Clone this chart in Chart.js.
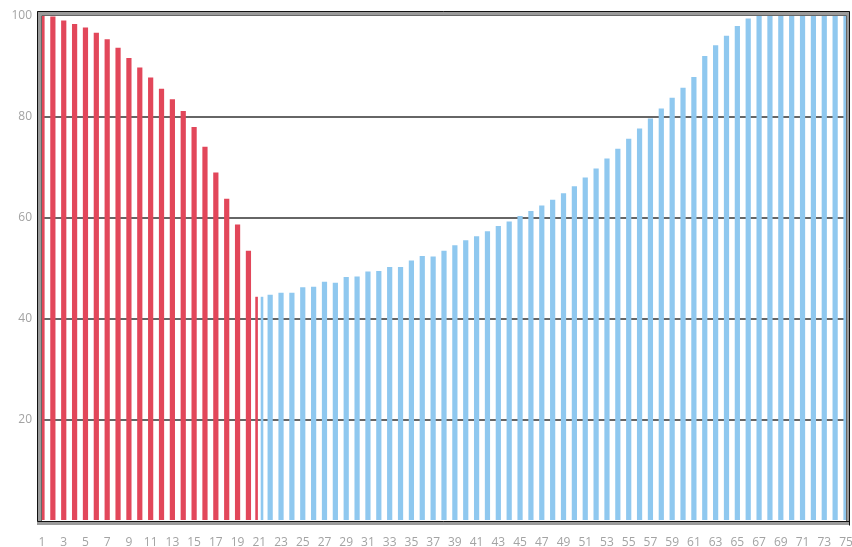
<!DOCTYPE html>
<html>
<head>
<meta charset="utf-8">
<script src="https://cdn.jsdelivr.net/npm/chart.js@4/dist/chart.umd.min.js"></script>
<style>
  html, body { margin: 0; padding: 0; background: #fff; }
  #wrap { width: 852px; height: 547px; position: relative; }
</style>
</head>
<body>
<div id="wrap"><canvas id="chart"></canvas></div>
<script>
// categories 1..75
const categories = [
  1, 2, 3, 4, 5, 6, 7, 8, 9, 10, 11, 12, 13, 14, 15, 16, 17, 18, 19, 20,
  21, 22, 23, 24, 25, 26, 27, 28, 29, 30, 31, 32, 33, 34, 35, 36, 37, 38, 39, 40,
  41, 42, 43, 44, 45, 46, 47, 48, 49, 50, 51, 52, 53, 54, 55, 56, 57, 58, 59, 60,
  61, 62, 63, 64, 65, 66, 67, 68, 69, 70, 71, 72, 73, 74, 75
];

// red series: categories 1..21
const redValues = [
  100, 99.9, 99.1, 98.4, 97.7, 96.7, 95.4, 93.7, 91.7, 89.8,
  87.8, 85.6, 83.5, 81.2, 78, 74.1, 69, 63.8, 58.7, 53.5, 44.4
];

// blue series: categories 21..75
const blueStart = 21;
const blueValues = [
  44.4, 44.8, 45.2, 45.2, 46.3, 46.4, 47.4, 47.2, 48.3, 48.4,
  49.4, 49.5, 50.3, 50.3, 51.6, 52.5, 52.4, 53.5, 54.6, 55.6,
  56.4, 57.4, 58.4, 59.3, 60.4, 61.4, 62.5, 63.6, 64.9, 66.3,
  68, 69.8, 71.8, 73.7, 75.7, 77.7, 79.7, 81.7, 83.8, 85.8,
  87.9, 92.1, 94.2, 96.1, 98, 99.5, 100, 100, 100, 100,
  100, 100, 100, 100, 100
];

const yTicks = [20, 40, 60, 80, 100];

const redData = categories.map((c, i) => i < redValues.length ? redValues[i] : null);
const blueData = categories.map((c, i) => i >= blueStart - 1 ? blueValues[i - (blueStart - 1)] : null);

// bevelled frame round the plot area
const framePlugin = {
  id: 'frame',
  afterDraw(chart) {
    const { ctx, chartArea: a } = chart;
    ctx.save();
    ctx.strokeStyle = '#9b9b9b';
    ctx.lineWidth = 4;
    ctx.strokeRect(a.left - 3, a.top - 3, (a.right + 2) - (a.left - 3), (a.bottom + 2) - (a.top - 3));
    ctx.lineWidth = 1;
    ctx.strokeStyle = '#111';
    // outer top + left + right
    ctx.beginPath();
    ctx.moveTo(a.left - 4.5, a.bottom + 0.5);
    ctx.lineTo(a.left - 4.5, a.top - 4.5);
    ctx.lineTo(a.right + 3.5, a.top - 4.5);
    ctx.lineTo(a.right + 3.5, a.bottom + 4.5);
    ctx.stroke();
    // inner bottom
    ctx.beginPath();
    ctx.moveTo(a.left - 4.5, a.bottom + 0.5);
    ctx.lineTo(a.right + 3.5, a.bottom + 0.5);
    ctx.stroke();
    // inner thin darker lines
    ctx.strokeStyle = '#666';
    ctx.beginPath();
    ctx.moveTo(a.left - 0.5, a.bottom);
    ctx.lineTo(a.left - 0.5, a.top - 0.5);
    ctx.lineTo(a.right + 0.5, a.top - 0.5);
    ctx.lineTo(a.right + 0.5, a.bottom);
    ctx.stroke();
    ctx.restore();
  }
};

const ctx = document.getElementById('chart').getContext('2d');
new Chart(ctx, {
  type: 'bar',
  data: {
    labels: categories,
    datasets: [
      {
        data: redData,
        backgroundColor: 'rgb(226, 71, 90)',
        barPercentage: 0.48,
        categoryPercentage: 1,
        skipNull: true
      },
      {
        data: blueData,
        backgroundColor: 'rgb(143, 200, 239)',
        barPercentage: 0.48,
        categoryPercentage: 1,
        skipNull: true
      }
    ]
  },
  options: {
    responsive: true,
    maintainAspectRatio: false,
    animation: false,
    layout: { padding: { left: 0, top: 16, right: 6, bottom: 0 } },
    plugins: {
      legend: { display: false },
      tooltip: { enabled: false }
    },
    scales: {
      x: {
        offset: false,
        grid: { display: false },
        border: { display: false },
        ticks: {
          autoSkip: false,
          maxRotation: 0,
          padding: 6,
          color: '#a3a3a3',
          font: { family: 'Open Sans', size: 12 },
          callback: (v, i) => i % 2 === 0 ? categories[i] : ''
        },
        afterFit: (scale) => {
          scale.height = 26;
          scale.paddingLeft = 0;
          scale.paddingRight = 0;
        }
      },
      y: {
        min: 0,
        max: 100,
        z: 1,
        border: { display: false },
        grid: {
          color: (c) => yTicks.includes(c.tick.value) && c.tick.value < 100 ? '#666' : 'rgba(0,0,0,0)',
          lineWidth: 2,
          tickLength: 4
        },
        ticks: {
          stepSize: 20,
          padding: 6,
          color: '#a3a3a3',
          font: { family: 'Open Sans', size: 12 },
          callback: (v) => yTicks.includes(v) ? v : ''
        },
        afterFit: (scale) => {
          scale.width = 42;
          scale.paddingTop = 0;
          scale.paddingBottom = 0;
        }
      }
    }
  },
  plugins: [framePlugin]
});
</script>
</body>
</html>
